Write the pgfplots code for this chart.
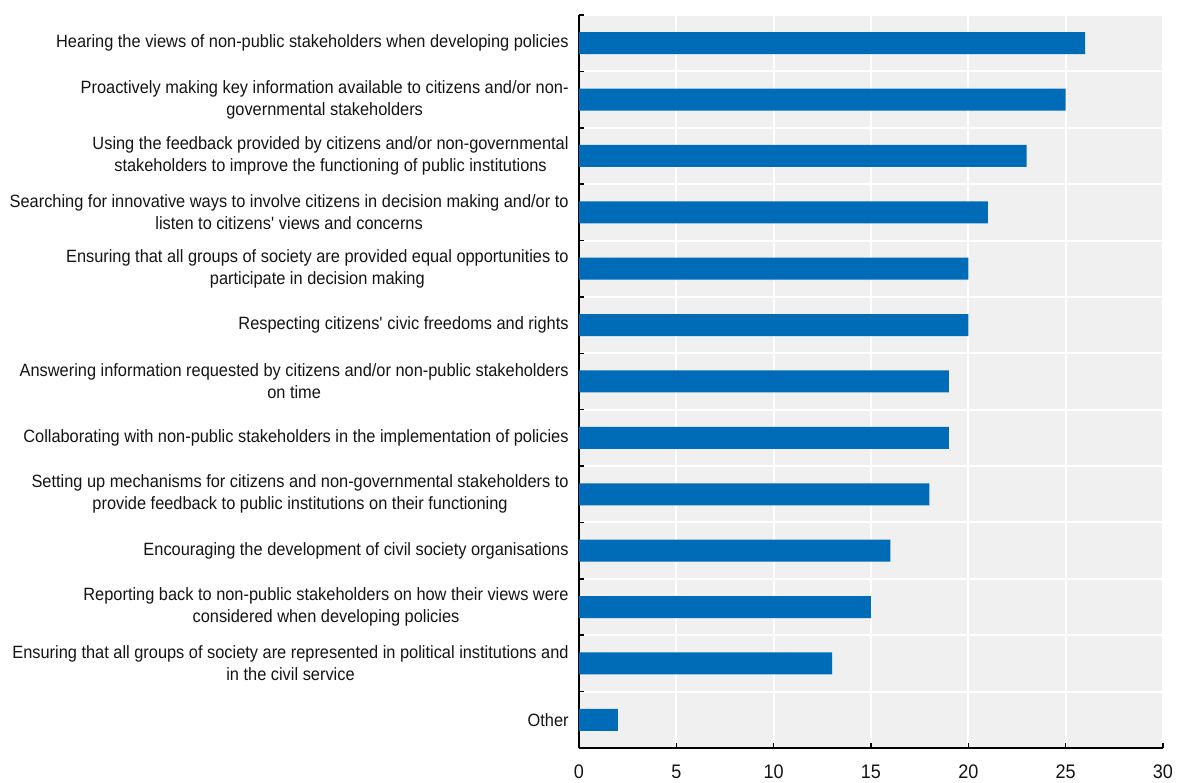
\documentclass[border=0pt]{standalone}
\usepackage{pgfplots}
\pgfplotsset{compat=1.18}
\usepackage{fontspec}
\setmainfont[FakeStretch=0.92]{Liberation Sans}
\definecolor{barblue}{RGB}{0,107,182}
\definecolor{bggray}{RGB}{240,240,240}
\definecolor{txt}{RGB}{20,20,20}
\begin{document}
\begin{tikzpicture}
\useasboundingbox (-289.5pt,-17pt) rectangle (299pt,374pt);
\begin{axis}[
 at={(0,0)}, anchor=south west,
 scale only axis, width=292pt, height=366.5pt,
 xbar, bar width=11pt,
 xmin=0, xmax=30, ymin=-0.5, ymax=12.5,
 axis x line*=bottom, axis y line*=left,
 axis line style={black, line width=0.75pt, -},
 axis background/.style={fill=bggray},
 xtick={0,5,...,30},
 ytick={0,...,12},
 yticklabels={
  Other,
  {Ensuring that all groups of society are represented in political institutions and\\in the civil service},
  {Reporting back to non-public stakeholders on how their views were\\considered when developing policies},
  {Encouraging the development of civil society organisations},
  {Setting up mechanisms for citizens and non-governmental stakeholders to\\provide feedback to public institutions on their functioning},
  {Collaborating with non-public stakeholders in the implementation of policies},
  {Answering information requested by citizens and/or non-public stakeholders\\on time},
  {Respecting citizens\textquotesingle{} civic freedoms and rights},
  {Ensuring that all groups of society are provided equal opportunities to\\participate in decision making},
  {Searching for innovative ways to involve citizens in decision making and/or to\\listen to citizens\textquotesingle{} views and concerns},
  {Using the feedback provided by citizens and/or non-governmental\\stakeholders to improve the functioning of public institutions},
  {Proactively making key information available to citizens and/or non-\\governmental stakeholders},
  {Hearing the views of non-public stakeholders when developing policies}
 },
 minor ytick={-0.5,0.5,...,12.5},
 xmajorgrids, yminorgrids,
 major grid style={white, line width=1pt},
 minor grid style={white, line width=1pt},
 tick align=outside,
 major tick length=2.5pt, minor tick length=2.5pt,
 every major y tick/.append style={draw=none},
 every minor y tick/.append style={xshift=2.5pt, black, line width=0.75pt},
 every major x tick/.append style={yshift=2.5pt, black, line width=0.75pt},
 yticklabel style={align=center, inner sep=0pt, xshift=-2.5pt, font=\fontsize{8.9}{11}\selectfont, text=txt},
 xticklabel style={inner sep=0pt, yshift=-5.8pt, font=\fontsize{9.8}{11}\selectfont, text=txt},
 /pgf/number format/assume math mode=true,
]
\addplot[fill=barblue, draw=none] coordinates {(2,0) (13,1) (15,2) (16,3) (18,4) (19,5) (19,6) (20,7) (20,8) (21,9) (23,10) (25,11) (26,12)};
\end{axis}
\end{tikzpicture}
\end{document}
